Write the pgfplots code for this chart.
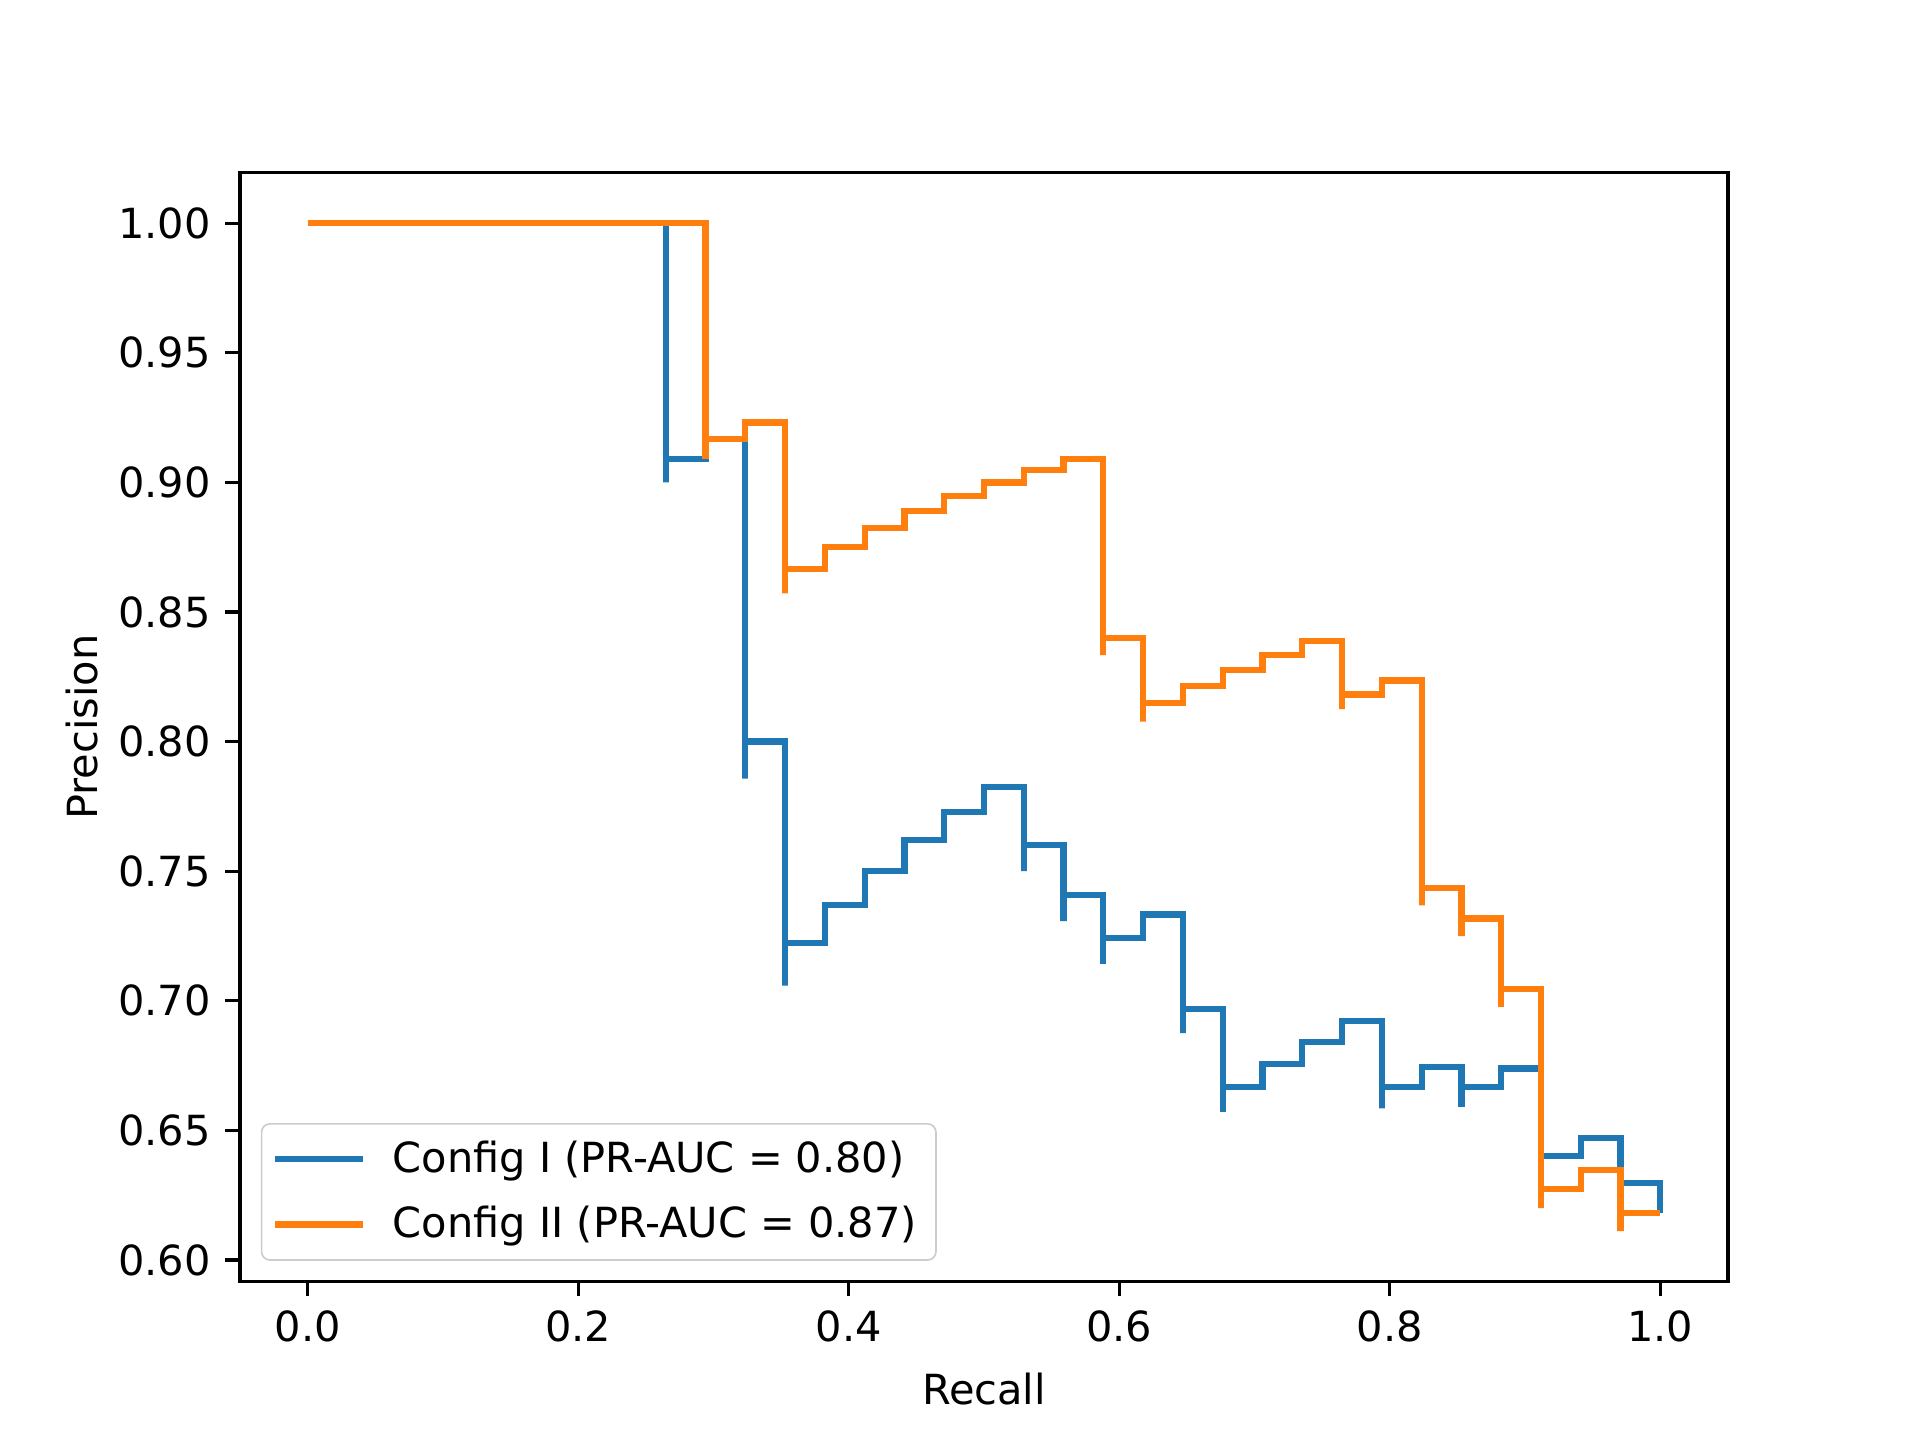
\documentclass[border=0pt]{standalone}
\usepackage{fontspec}
\setmainfont{DejaVu Sans}
\usepackage{pgfplots}
\pgfplotsset{compat=1.18}
\definecolor{c0}{HTML}{1F77B4}
\definecolor{c1}{HTML}{FF7F0E}
\begin{document}
\begin{tikzpicture}
\path[use as bounding box] (-0.8in,-0.528in) rectangle (5.6in,4.272in);
\begin{axis}[
  at={(0,0)}, anchor=south west,
  scale only axis, width=4.96in, height=3.696in,
  xmin=-0.05, xmax=1.05, ymin=0.59167, ymax=1.01944,
  xtick={0,0.2,0.4,0.6,0.8,1.0},
  ytick={0.60,0.65,0.70,0.75,0.80,0.85,0.90,0.95,1.00},
  xticklabel style={/pgf/number format/.cd,fixed,fixed zerofill,precision=1},
  yticklabel style={/pgf/number format/.cd,fixed,fixed zerofill,precision=2},
  /pgf/number format/assume math mode=true,
  tick pos=left, tick align=outside,
  major tick length=3.5pt,
  every tick/.style={black,line width=0.8pt},
  axis line style={line width=0.8pt},
  tick label style={font=\fontsize{10}{12}\selectfont},
  label style={font=\fontsize{10}{12}\selectfont},
  xlabel={Recall}, ylabel={Precision},
  xlabel style={yshift=-0.5pt}, ylabel style={yshift=-2pt},
  legend style={at={(axis description cs:0,0)}, anchor=south west,
    xshift=5pt, yshift=5pt, draw=black!20, rounded corners=2pt,
    fill=white, fill opacity=0.8, text opacity=1,
    font=\fontsize{10}{12}\selectfont, cells={anchor=west},
    inner xsep=2.6pt, inner ysep=2pt, row sep=2.6pt},
  legend image code/.code={\draw[#1,line width=1.5pt] (0pt,0pt) -- (21pt,0pt); \path (25.5pt,0pt);},
]
% Config I
\addplot[c0, line width=1.5pt, line join=miter] coordinates {
(0,1) (0.26471,1) (0.26471,0.9) (0.26471,0.90909) (0.29412,0.90909)
(0.29412,0.91667) (0.32353,0.91667) (0.32353,0.78571) (0.32353,0.8)
(0.35294,0.8) (0.35294,0.70588) (0.35294,0.72222) (0.38235,0.72222)
(0.38235,0.73684) (0.41176,0.73684) (0.41176,0.75) (0.44118,0.75)
(0.44118,0.7619) (0.47059,0.7619) (0.47059,0.77273) (0.5,0.77273)
(0.5,0.78261) (0.52941,0.78261) (0.52941,0.75) (0.52941,0.76)
(0.55882,0.76) (0.55882,0.73077) (0.55882,0.74074) (0.58824,0.74074)
(0.58824,0.71429) (0.58824,0.72414) (0.61765,0.72414) (0.61765,0.73333)
(0.64706,0.73333) (0.64706,0.6875) (0.64706,0.69697) (0.67647,0.69697)
(0.67647,0.65714) (0.67647,0.66667) (0.70588,0.66667) (0.70588,0.67568)
(0.73529,0.67568) (0.73529,0.68421) (0.76471,0.68421) (0.76471,0.69231)
(0.79412,0.69231) (0.79412,0.65854) (0.79412,0.66667) (0.82353,0.66667)
(0.82353,0.67442) (0.85294,0.67442) (0.85294,0.65909) (0.85294,0.66667)
(0.88235,0.66667) (0.88235,0.67391) (0.91176,0.67391) (0.91176,0.63265)
(0.91176,0.64) (0.94118,0.64) (0.94118,0.64706) (0.97059,0.64706)
(0.97059,0.62264) (0.97059,0.62963) (1,0.62963) (1,0.61818)
};
\addlegendentry{Config I (PR-AUC = 0.80)}
% Config II
\addplot[c1, line width=1.5pt, line join=miter] coordinates {
(0,1) (0.29412,1) (0.29412,0.90909) (0.29412,0.91667) (0.32353,0.91667)
(0.32353,0.92308) (0.35294,0.92308) (0.35294,0.85714) (0.35294,0.86667)
(0.38235,0.86667) (0.38235,0.875) (0.41176,0.875) (0.41176,0.88235)
(0.44118,0.88235) (0.44118,0.88889) (0.47059,0.88889) (0.47059,0.89474)
(0.5,0.89474) (0.5,0.9) (0.52941,0.9) (0.52941,0.90476) (0.55882,0.90476)
(0.55882,0.90909) (0.58824,0.90909) (0.58824,0.83333) (0.58824,0.84)
(0.61765,0.84) (0.61765,0.80769) (0.61765,0.81481) (0.64706,0.81481)
(0.64706,0.82143) (0.67647,0.82143) (0.67647,0.82759) (0.70588,0.82759)
(0.70588,0.83333) (0.73529,0.83333) (0.73529,0.83871) (0.76471,0.83871)
(0.76471,0.8125) (0.76471,0.81818) (0.79412,0.81818) (0.79412,0.82353)
(0.82353,0.82353) (0.82353,0.73684) (0.82353,0.74359) (0.85294,0.74359)
(0.85294,0.725) (0.85294,0.73171) (0.88235,0.73171) (0.88235,0.69767)
(0.88235,0.70455) (0.91176,0.70455) (0.91176,0.62) (0.91176,0.62745)
(0.94118,0.62745) (0.94118,0.63462) (0.97059,0.63462) (0.97059,0.61111)
(0.97059,0.61818) (1,0.61818)
};
\addlegendentry{Config II (PR-AUC = 0.87)}
\end{axis}
\end{tikzpicture}
\end{document}
